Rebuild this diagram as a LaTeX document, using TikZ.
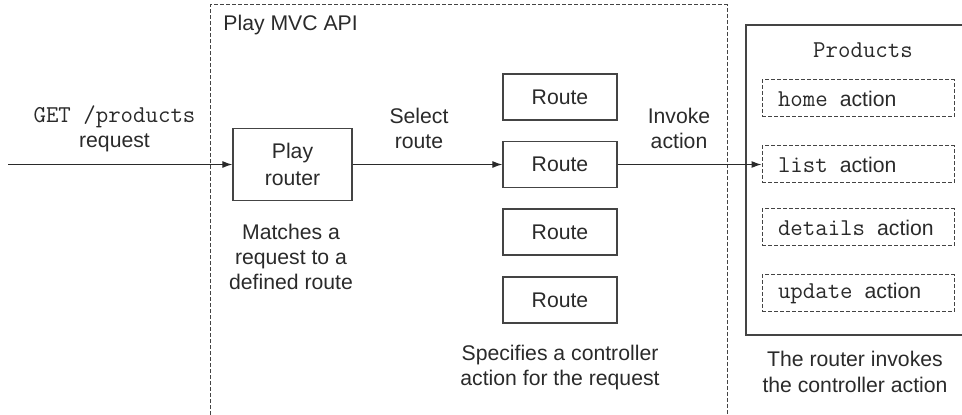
\documentclass[tikz,border=0pt]{standalone}
\usepackage{fontspec}
\setmainfont{Liberation Sans}
\setmonofont{Latin Modern Mono}[Scale=1.14]
\usetikzlibrary{arrows.meta}

\definecolor{ink}{HTML}{2A2A2A}
\definecolor{edge}{HTML}{444444}

\tikzset{
  lbl/.style={text=ink, align=center, font=\fontsize{10.6}{12.6}\selectfont, inner sep=0pt},
  solidbox/.style={draw=edge, line width=0.65pt, text=ink, align=center,
    font=\fontsize{10.6}{13.2}\selectfont},
  routebox/.style={solidbox, minimum width=57pt, minimum height=23pt},
  actbox/.style={draw=edge, line width=0.5pt, dash pattern=on 2pt off 1pt, text=ink,
    minimum width=96pt, minimum height=18.5pt, text width=80pt, inner xsep=8pt,
    align=left, font=\fontsize{10.6}{12.6}\selectfont},
  arr/.style={draw=ink, line width=0.55pt, -{Latex[length=5pt,width=3.5pt]}}
}

\begin{document}
\begin{tikzpicture}[x=0.5pt, y=-0.5pt]
  \useasboundingbox (0,0) rectangle (962,415);

  % Play MVC API frame (open at the bottom)
  \draw[edge, line width=0.5pt, dash pattern=on 2pt off 1pt]
    (210,415) -- (210,5) -- (727,5) -- (727,415);
  \node[lbl, anchor=west] (api) at (223,25) {Play MVC API};

  % Incoming request
  \coordinate (in) at (8,164.5);
  \node[lbl] (req) at (114.5,129) {\texttt{GET /products}\\request};

  % Router
  \node[solidbox, minimum width=59.5pt, minimum height=36pt] (router) at (292.5,164.5) {Play\\router};
  \node[lbl] (match) at (291,257) {Matches a\\request to a\\defined route};

  % Routes
  \foreach \y [count=\i] in {97,164.5,232,300}
    \node[routebox] (route\i) at (560,\y) {Route};
  \node[lbl] (spec) at (560,367.5) {Specifies a controller\\action for the request};

  % Controller
  \draw[edge, line width=1pt] (746,25) rectangle (980,335);
  \node[lbl, font=\fontsize{10.6}{12.6}\ttfamily] (ctrl) at (863,50) {Products};
  \foreach \n/\y in {home/98.5, list/164.5, details/227.5, update/293.5}
    \node[actbox] (\n) at (858,\y) {\texttt{\n}\hspace{6pt}action};
  \node[lbl] (inv) at (855,372) {The router invokes\\the controller action};

  % Arrows and their labels
  \draw[arr] (in) -- (router.west);
  \draw[arr] (router) -- (route2);
  \draw[arr] (route2) -- (list.west);
  \node[lbl] (sel) at (419,128.5) {Select\\route};
  \node[lbl] (invoke) at (679,128.5) {Invoke\\action};
\end{tikzpicture}
\end{document}
